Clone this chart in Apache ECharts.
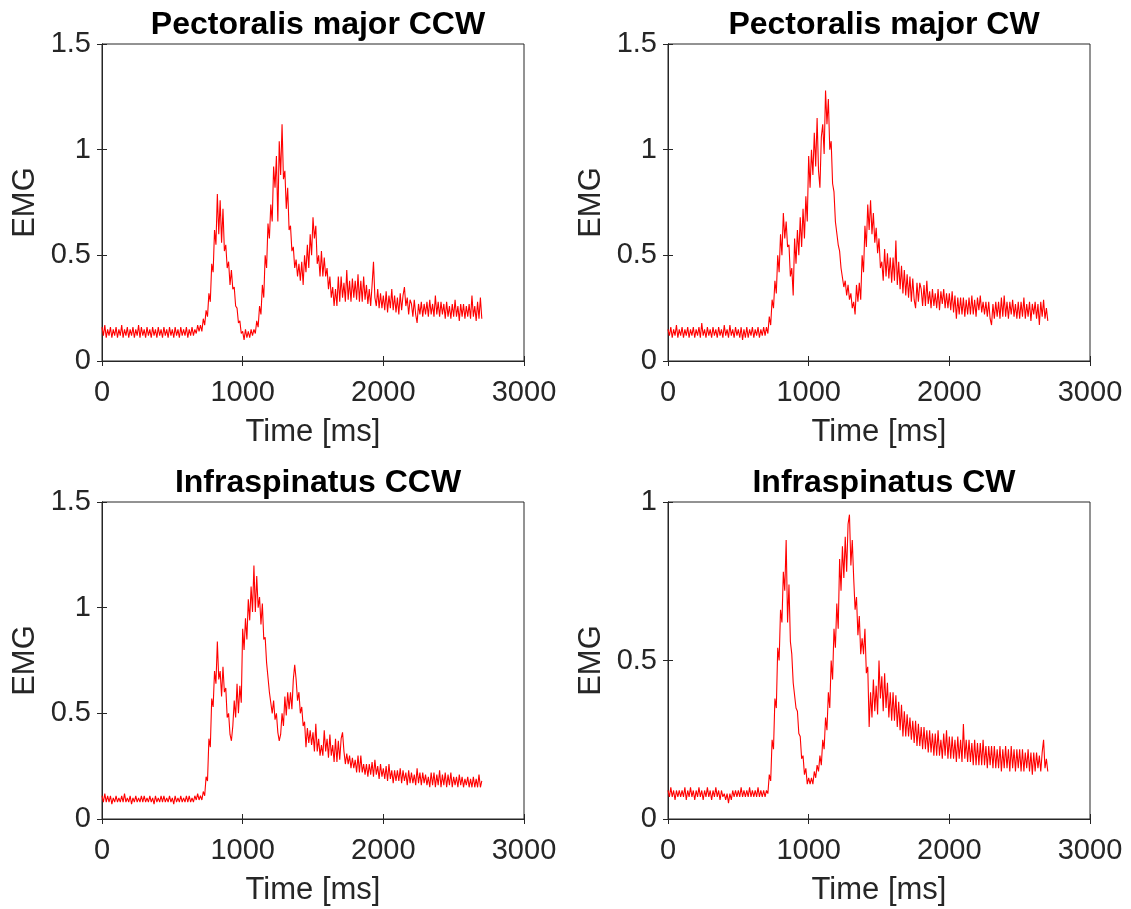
<!DOCTYPE html>
<html>
<head>
<meta charset="utf-8">
<script src="https://cdn.jsdelivr.net/npm/echarts@6/dist/echarts.min.js"></script>
<style>
html,body{margin:0;padding:0;background:#fff;}
#chart{width:1131px;height:909px;}
</style>
</head>
<body>
<div id="chart"></div>
<script>
// Sampling step of the traces (ms)
var STEP_MS = 10;

var titles = ['Pectoralis major CCW', 'Pectoralis major CW', 'Infraspinatus CCW', 'Infraspinatus CW'];
var xTicks = [0, 1000, 2000, 3000];
var yMax = [1.5, 1.5, 1.5, 1];

// Pectoralis major CCW (top-left), one value every 10 ms from 0 to 2700 ms
var pmCCW = [
0.16,0.12,0.17,0.11,0.15,0.12,0.16,0.11,0.15,0.12,
0.16,0.11,0.15,0.12,0.17,0.11,0.15,0.12,0.16,0.11,
0.15,0.12,0.16,0.11,0.15,0.12,0.17,0.11,0.16,0.12,
0.15,0.11,0.16,0.12,0.15,0.11,0.16,0.12,0.15,0.11,
0.16,0.12,0.15,0.11,0.16,0.12,0.15,0.11,0.16,0.12,
0.15,0.11,0.16,0.12,0.15,0.11,0.16,0.12,0.15,0.12,
0.16,0.11,0.15,0.12,0.16,0.12,0.15,0.13,0.17,0.14,
0.17,0.14,0.20,0.17,0.24,0.21,0.32,0.28,0.46,0.42,
0.62,0.55,0.79,0.60,0.76,0.56,0.72,0.52,0.55,0.44,
0.47,0.36,0.43,0.34,0.35,0.26,0.25,0.18,0.19,0.13,
0.14,0.10,0.15,0.11,0.14,0.11,0.15,0.12,0.15,0.13,
0.19,0.16,0.26,0.22,0.36,0.30,0.50,0.44,0.65,0.58,
0.74,0.66,0.92,0.82,0.97,0.66,1.04,0.88,1.12,0.86,
0.90,0.72,0.82,0.62,0.64,0.52,0.54,0.44,0.48,0.40,
0.46,0.38,0.47,0.36,0.50,0.42,0.55,0.44,0.60,0.50,
0.68,0.58,0.64,0.46,0.50,0.40,0.52,0.40,0.49,0.40,
0.44,0.34,0.40,0.30,0.35,0.26,0.34,0.26,0.40,0.28,
0.40,0.30,0.37,0.28,0.43,0.29,0.38,0.28,0.39,0.30,
0.38,0.29,0.41,0.28,0.38,0.28,0.40,0.29,0.36,0.27,
0.34,0.26,0.36,0.47,0.30,0.26,0.34,0.25,0.32,0.25,
0.31,0.24,0.33,0.23,0.31,0.25,0.34,0.24,0.31,0.23,
0.30,0.22,0.32,0.24,0.31,0.35,0.26,0.30,0.22,0.29,
0.27,0.21,0.29,0.22,0.18,0.27,0.22,0.28,0.21,0.27,
0.22,0.28,0.21,0.29,0.22,0.27,0.21,0.31,0.22,0.28,
0.21,0.28,0.22,0.27,0.20,0.28,0.21,0.26,0.20,0.27,
0.21,0.29,0.21,0.26,0.19,0.27,0.21,0.27,0.20,0.26,
0.21,0.27,0.20,0.31,0.21,0.26,0.19,0.28,0.20,0.30,
0.20
];

// Pectoralis major CW (top-right)
var pmCW = [
0.15,0.12,0.16,0.11,0.15,0.12,0.17,0.11,0.15,0.12,
0.16,0.11,0.15,0.12,0.16,0.11,0.15,0.12,0.16,0.11,
0.15,0.12,0.16,0.11,0.18,0.12,0.15,0.11,0.16,0.12,
0.15,0.11,0.16,0.12,0.15,0.11,0.16,0.12,0.15,0.11,
0.17,0.12,0.15,0.11,0.17,0.12,0.15,0.11,0.16,0.12,
0.15,0.11,0.16,0.10,0.15,0.11,0.16,0.11,0.15,0.12,
0.16,0.11,0.15,0.12,0.16,0.11,0.15,0.12,0.16,0.12,
0.16,0.13,0.21,0.17,0.29,0.25,0.38,0.32,0.50,0.42,
0.60,0.50,0.70,0.58,0.66,0.54,0.55,0.40,0.44,0.31,
0.58,0.46,0.62,0.50,0.68,0.54,0.72,0.58,0.78,0.66,
0.97,0.82,1.00,0.88,1.08,0.92,1.15,0.90,0.82,1.06,
1.12,0.98,1.28,1.12,1.24,1.00,1.04,0.84,0.80,0.66,
0.66,0.55,0.52,0.44,0.44,0.35,0.38,0.31,0.36,0.29,
0.32,0.25,0.28,0.22,0.36,0.28,0.37,0.29,0.50,0.42,
0.64,0.54,0.74,0.62,0.76,0.60,0.70,0.56,0.63,0.51,
0.58,0.44,0.47,0.38,0.53,0.40,0.51,0.39,0.49,0.37,
0.49,0.38,0.57,0.36,0.47,0.34,0.45,0.32,0.43,0.31,
0.41,0.30,0.40,0.28,0.39,0.29,0.25,0.37,0.28,0.37,
0.34,0.26,0.36,0.26,0.38,0.27,0.33,0.25,0.34,0.26,
0.32,0.25,0.34,0.24,0.33,0.27,0.34,0.25,0.32,0.25,
0.32,0.24,0.33,0.23,0.31,0.20,0.30,0.22,0.30,0.22,
0.30,0.21,0.29,0.22,0.30,0.22,0.31,0.22,0.29,0.21,
0.30,0.24,0.31,0.23,0.28,0.22,0.28,0.21,0.28,0.20,
0.17,0.27,0.20,0.28,0.21,0.28,0.20,0.30,0.21,0.31,
0.21,0.28,0.20,0.28,0.22,0.29,0.21,0.27,0.20,0.28,
0.20,0.28,0.21,0.30,0.20,0.27,0.21,0.28,0.19,0.27,
0.22,0.28,0.20,0.27,0.17,0.28,0.21,0.29,0.20,0.25,
0.19
];

// Infraspinatus CCW (bottom-left)
var isCCW = [
0.11,0.08,0.12,0.08,0.11,0.08,0.11,0.07,0.10,0.08,
0.11,0.08,0.10,0.08,0.11,0.08,0.12,0.08,0.10,0.08,
0.11,0.07,0.10,0.08,0.11,0.08,0.10,0.08,0.11,0.08,
0.11,0.08,0.10,0.08,0.11,0.08,0.10,0.07,0.11,0.08,
0.10,0.08,0.11,0.08,0.11,0.08,0.10,0.08,0.11,0.08,
0.10,0.07,0.11,0.08,0.10,0.08,0.11,0.08,0.10,0.08,
0.11,0.08,0.11,0.08,0.10,0.08,0.11,0.09,0.12,0.09,
0.11,0.09,0.13,0.11,0.20,0.18,0.38,0.34,0.57,0.53,
0.70,0.64,0.84,0.66,0.70,0.58,0.72,0.60,0.62,0.48,
0.50,0.40,0.37,0.44,0.56,0.48,0.64,0.50,0.63,0.55,
0.90,0.80,0.95,0.85,1.04,0.94,1.10,0.98,1.20,0.98,
1.15,1.00,1.05,0.92,1.02,0.85,0.86,0.74,0.74,0.60,
0.60,0.50,0.56,0.47,0.50,0.41,0.37,0.40,0.50,0.44,
0.58,0.49,0.60,0.52,0.60,0.52,0.66,0.73,0.66,0.56,
0.60,0.50,0.53,0.44,0.46,0.34,0.43,0.36,0.42,0.35,
0.41,0.32,0.45,0.32,0.38,0.30,0.35,0.30,0.42,0.32,
0.38,0.29,0.40,0.30,0.35,0.27,0.38,0.27,0.37,0.28,
0.38,0.41,0.32,0.26,0.31,0.26,0.30,0.24,0.29,0.24,
0.28,0.22,0.30,0.22,0.30,0.22,0.26,0.21,0.26,0.20,
0.26,0.21,0.27,0.20,0.28,0.21,0.25,0.19,0.26,0.20,
0.24,0.19,0.25,0.18,0.26,0.19,0.23,0.17,0.23,0.18,
0.23,0.18,0.24,0.17,0.23,0.18,0.22,0.16,0.23,0.17,
0.22,0.17,0.21,0.16,0.24,0.17,0.22,0.16,0.22,0.17,
0.21,0.16,0.20,0.15,0.22,0.16,0.22,0.15,0.21,0.16,
0.23,0.15,0.21,0.16,0.22,0.15,0.21,0.16,0.22,0.15,
0.20,0.16,0.20,0.15,0.21,0.16,0.20,0.15,0.19,0.16,
0.20,0.15,0.19,0.15,0.20,0.15,0.19,0.15,0.21,0.15,
0.18
];

// Infraspinatus CW (bottom-right)
var isCW = [
0.09,0.07,0.10,0.07,0.09,0.06,0.09,0.07,0.09,0.07,
0.09,0.07,0.10,0.06,0.09,0.07,0.10,0.07,0.09,0.06,
0.09,0.07,0.10,0.07,0.09,0.06,0.09,0.07,0.10,0.07,
0.09,0.06,0.09,0.07,0.10,0.07,0.09,0.06,0.09,0.07,
0.08,0.06,0.08,0.05,0.08,0.06,0.09,0.07,0.09,0.07,
0.09,0.07,0.10,0.07,0.09,0.07,0.09,0.07,0.10,0.07,
0.09,0.07,0.09,0.07,0.10,0.07,0.09,0.07,0.09,0.07,
0.09,0.08,0.14,0.12,0.25,0.22,0.38,0.35,0.54,0.50,
0.66,0.62,0.78,0.72,0.88,0.62,0.74,0.56,0.52,0.43,
0.43,0.35,0.34,0.27,0.26,0.19,0.20,0.14,0.16,0.11,
0.13,0.11,0.13,0.11,0.15,0.13,0.17,0.15,0.20,0.17,
0.25,0.22,0.32,0.28,0.40,0.35,0.50,0.44,0.60,0.54,
0.68,0.60,0.82,0.72,0.86,0.76,0.89,0.78,0.93,0.96,
0.80,0.88,0.76,0.66,0.70,0.58,0.64,0.52,0.57,0.52,
0.60,0.46,0.48,0.29,0.40,0.32,0.44,0.34,0.42,0.33,
0.50,0.38,0.45,0.34,0.46,0.35,0.43,0.32,0.40,0.31,
0.40,0.31,0.39,0.29,0.37,0.28,0.36,0.26,0.34,0.26,
0.33,0.26,0.32,0.25,0.31,0.24,0.31,0.23,0.30,0.23,
0.29,0.22,0.29,0.22,0.28,0.21,0.28,0.21,0.27,0.20,
0.27,0.20,0.28,0.20,0.25,0.19,0.27,0.20,0.28,0.19,
0.26,0.19,0.26,0.19,0.25,0.18,0.26,0.19,0.25,0.18,
0.30,0.19,0.25,0.18,0.25,0.18,0.24,0.17,0.25,0.17,
0.24,0.17,0.24,0.17,0.25,0.17,0.23,0.16,0.23,0.17,
0.23,0.16,0.23,0.16,0.22,0.16,0.23,0.15,0.22,0.16,
0.23,0.16,0.22,0.15,0.23,0.16,0.22,0.15,0.22,0.16,
0.22,0.15,0.22,0.15,0.21,0.16,0.22,0.15,0.21,0.14,
0.21,0.15,0.21,0.16,0.20,0.15,0.21,0.25,0.16,0.19,
0.15
];

var seriesValues = [pmCCW, pmCW, isCCW, isCW];

var FONT = '"Liberation Sans", Arial, Helvetica, sans-serif';
var AX = '#262626';
var grids = [
  {left: 102, top: 44, width: 422, height: 317},
  {left: 668, top: 44, width: 422, height: 317},
  {left: 102, top: 502, width: 422, height: 317},
  {left: 668, top: 502, width: 422, height: 317}
];

var option = {
  animation: false,
  backgroundColor: '#ffffff',
  title: [],
  grid: [],
  xAxis: [],
  yAxis: [],
  series: []
};

grids.forEach(function (g, i) {
  option.grid.push({left: g.left, top: g.top, width: g.width, height: g.height,
    show: true, borderColor: AX, borderWidth: 1, backgroundColor: '#fff'});
  option.title.push({
    text: titles[i],
    left: g.left + g.width / 2, top: g.top - 40, textAlign: 'center',
    textStyle: {fontFamily: FONT, fontSize: 32, fontWeight: 'bold', color: '#000'}
  });
  var tickStyle = {show: true, inside: true, length: 5, lineStyle: {color: AX, width: 1}};
  option.xAxis.push({
    type: 'value', gridIndex: i, position: 'bottom', min: xTicks[0], max: xTicks[xTicks.length - 1], interval: 1000,
    name: 'Time [ms]', nameLocation: 'middle', nameGap: 56,
    nameTextStyle: {fontFamily: FONT, fontSize: 31, color: AX},
    axisLine: {show: true, lineStyle: {color: AX, width: 1}},
    axisTick: tickStyle,
    axisLabel: {fontFamily: FONT, fontSize: 29, color: AX, margin: 17,
      formatter: function (v) { return String(v); }},
    splitLine: {show: false}
  });
  option.xAxis.push({
    type: 'value', gridIndex: i, position: 'top', min: xTicks[0], max: xTicks[xTicks.length - 1], interval: 1000,
    axisLine: {show: true, lineStyle: {color: AX, width: 1}},
    axisTick: tickStyle, axisLabel: {show: false}, splitLine: {show: false}
  });
  option.yAxis.push({
    type: 'value', gridIndex: i, position: 'left', min: 0, max: yMax[i], interval: 0.5,
    name: 'EMG', nameLocation: 'middle', nameGap: 61,
    nameTextStyle: {fontFamily: FONT, fontSize: 31, color: AX},
    axisLine: {show: true, lineStyle: {color: AX, width: 1}},
    axisTick: tickStyle,
    axisLabel: {fontFamily: FONT, fontSize: 29, color: AX, margin: 11,
      formatter: function (v) { return String(v); }},
    splitLine: {show: false}
  });
  option.yAxis.push({
    type: 'value', gridIndex: i, position: 'right', min: 0, max: yMax[i], interval: 0.5,
    axisLine: {show: true, lineStyle: {color: AX, width: 1}},
    axisTick: tickStyle, axisLabel: {show: false}, splitLine: {show: false}
  });
  var vals = seriesValues[i];
  var data = vals.map(function (v, k) { return [k * STEP_MS, v]; });
  option.series.push({
    type: 'line', xAxisIndex: 2 * i, yAxisIndex: 2 * i, data: data,
    showSymbol: false, symbol: 'none', silent: true,
    lineStyle: {color: '#ff0000', width: 1.1},
    z: 3
  });
});

var chart = echarts.init(document.getElementById('chart'), null, {renderer: 'canvas'});
chart.setOption(option);
</script>
</body>
</html>
